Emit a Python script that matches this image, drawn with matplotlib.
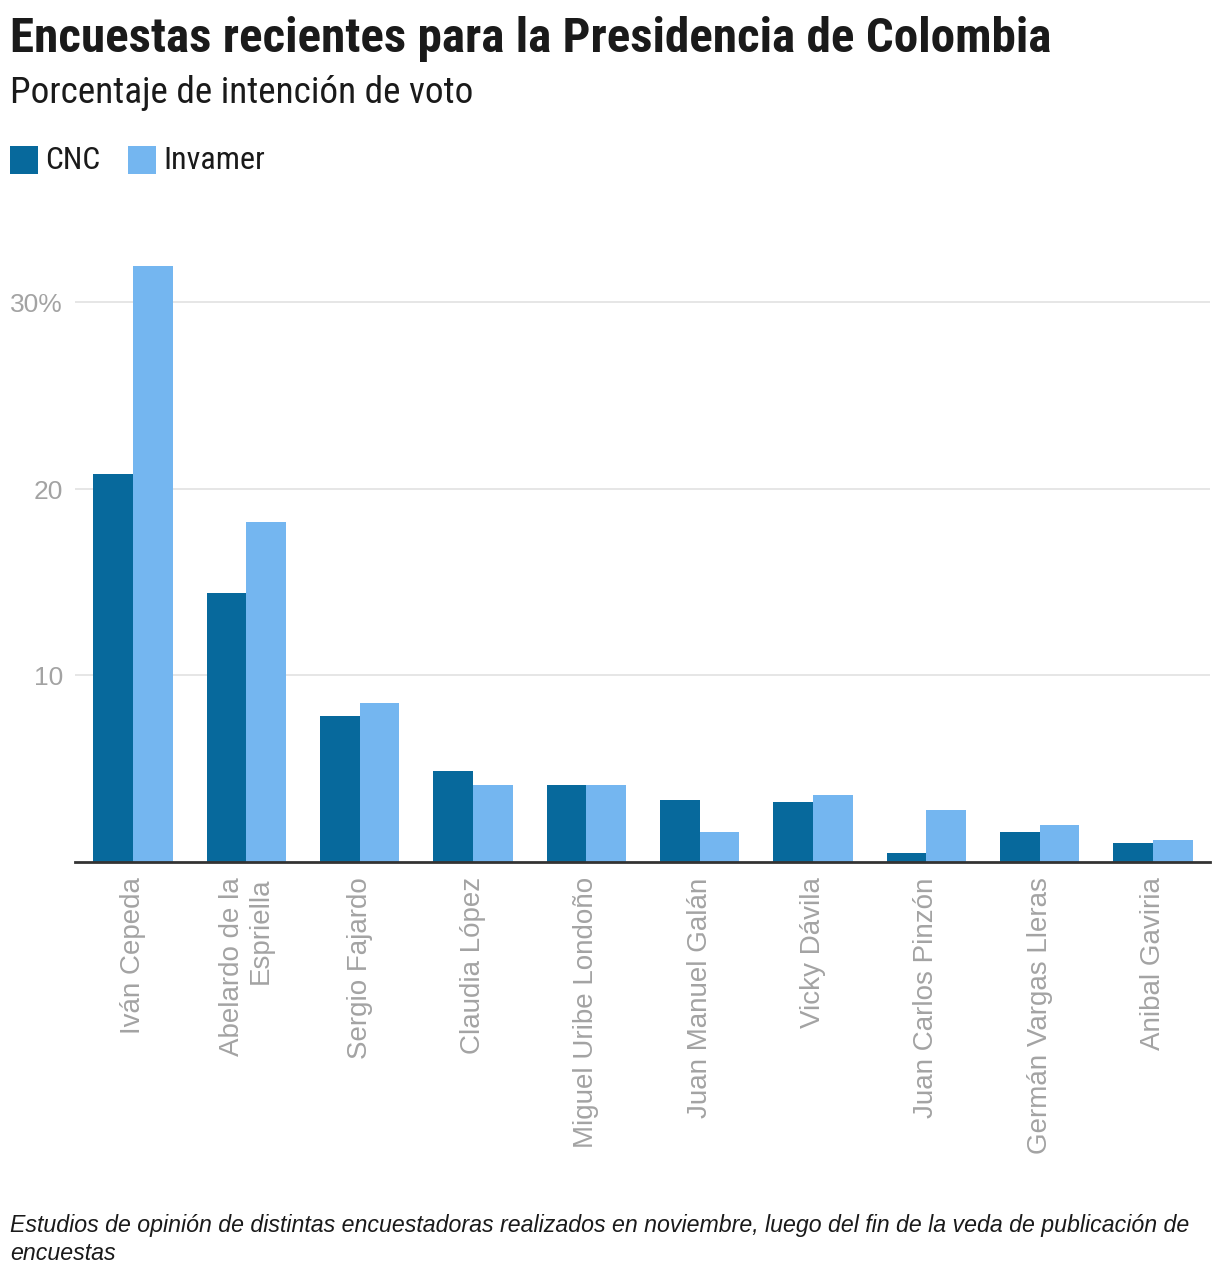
import matplotlib
matplotlib.use("Agg")
import matplotlib.pyplot as plt
from matplotlib import font_manager as fm
from matplotlib.patches import Rectangle
import matplotlib.transforms as mtransforms
import numpy as np

# ---------------- data ----------------
candidates = ["Iván Cepeda", "Abelardo de la\nEspriella", "Sergio Fajardo", "Claudia López",
              "Miguel Uribe Londoño", "Juan Manuel Galán", "Vicky Dávila",
              "Juan Carlos Pinzón", "Germán Vargas Lleras", "Anibal Gaviria"]
cnc = [20.8, 14.4, 7.8, 4.9, 4.1, 3.3, 3.2, 0.5, 1.6, 1.0]
invamer = [31.9, 18.2, 8.5, 4.1, 4.15, 1.6, 3.6, 2.8, 2.0, 1.2]
series_names = ["CNC", "Invamer"]
ytick_values = [10, 20, 30]
ytick_labels = ["10", "20", "30%"]

title = "Encuestas recientes para la Presidencia de Colombia"
subtitle = "Porcentaje de intención de voto"
footer_lines = ["Estudios de opinión de distintas encuestadoras realizados en noviembre, luego del fin de la veda de publicación de",
                "encuestas"]

# ---------------- fonts ----------------
available = {f.name for f in fm.fontManager.ttflist}
def pick(*names):
    for n in names:
        if n in available:
            return n
    return "DejaVu Sans"

narrow = pick("Roboto Condensed", "Liberation Sans Narrow", "Roboto")
regular = pick("Liberation Sans", "Roboto", "DejaVu Sans")
plt.rcParams["font.family"] = [regular, "DejaVu Sans"]

C_DARK = "#07699c"
C_LIGHT = "#74b6f0"
GRAY = "#a3a3a3"
TXT = "#1a1a1a"

W, H = 1220, 1280
fig = plt.figure(figsize=(W / 100, H / 100), dpi=100)
fig.patch.set_facecolor("white")

def fx(px):
    return px / W
def fy(py):
    return 1 - py / H

# axes placement (pixels)
ax_left, ax_right, ax_top, ax_bottom = 75, 1210, 240, 862
ax = fig.add_axes([fx(ax_left), fy(ax_bottom), fx(ax_right - ax_left), (ax_bottom - ax_top) / H])

n = len(candidates)
x = np.arange(n)
bw = 0.35
ax.bar(x - bw / 2, cnc, width=bw, color=C_DARK, zorder=3)
ax.bar(x + bw / 2, invamer, width=bw, color=C_LIGHT, zorder=3)

step = 113.33
ax.set_xlim(-(133 - ax_left) / step, n - 1 + (ax_right - 1153) / step)
ax.set_ylim(0, (ax_bottom - ax_top) / 18.67)

for s in ["top", "right", "left"]:
    ax.spines[s].set_visible(False)
ax.spines["bottom"].set_color("#333333")
ax.spines["bottom"].set_linewidth(2)
ax.spines["bottom"].set_zorder(4)

ax.set_yticks(ytick_values)
ax.set_yticklabels([])
ax.tick_params(axis="y", length=0)
ax.grid(axis="y", color="#e2e2e2", linewidth=1.2, zorder=0)

# y labels right-aligned at x=63px, nudged slightly down
trans = mtransforms.blended_transform_factory(fig.transFigure, ax.transData)
trans = trans + mtransforms.ScaledTranslation(0, -3 / 100, fig.dpi_scale_trans)
for v, lab in zip(ytick_values, ytick_labels):
    fig.text(fx(63), v, lab, transform=trans, ha="right", va="center",
             fontsize=19, color=GRAY, family=regular)

ax.set_xticks(x)
ax.set_xticklabels(candidates, rotation=90, fontsize=20, color=GRAY, family=regular,
                   ha="center", va="top", multialignment="right", linespacing=1.1)
ax.tick_params(axis="x", length=0, pad=11)

# ---------------- titles ----------------
fig.canvas.draw()
r = fig.canvas.get_renderer()

def fit(textobj, target_w, base):
    bb = textobj.get_window_extent(r)
    textobj.set_fontsize(base * target_w / bb.width)

t = fig.text(fx(10), fy(52), title, ha="left", va="baseline", fontsize=29,
             fontweight="heavy", color=TXT, family=narrow)
fit(t, 1040, 29)

st = fig.text(fx(10), fy(103), subtitle, ha="left", va="baseline", fontsize=22,
              color=TXT, family=narrow)
fit(st, 463, 22)

# legend
leg_x = [10, 128]
leg_w = [55, 102]
for px, name, col, tw in zip(leg_x, series_names, [C_DARK, C_LIGHT], leg_w):
    fig.patches.append(Rectangle((fx(px), fy(174)), 28 / W, 28 / H, transform=fig.transFigure,
                                 facecolor=col, edgecolor="none"))
    lt = fig.text(fx(px + 35), fy(169), name, ha="left", va="baseline", fontsize=19,
                  color=TXT, family=narrow)
    fit(lt, tw, 19)

# footer
f1 = fig.text(fx(10), fy(1232), footer_lines[0], ha="left", va="baseline", fontsize=16,
              style="italic", color=TXT, family=regular)
fit(f1, 1183, 16)
fig.text(fx(10), fy(1260), footer_lines[1], ha="left", va="baseline", fontsize=f1.get_fontsize(),
         style="italic", color=TXT, family=regular)

fig.savefig("out.png", dpi=100, facecolor="white")
